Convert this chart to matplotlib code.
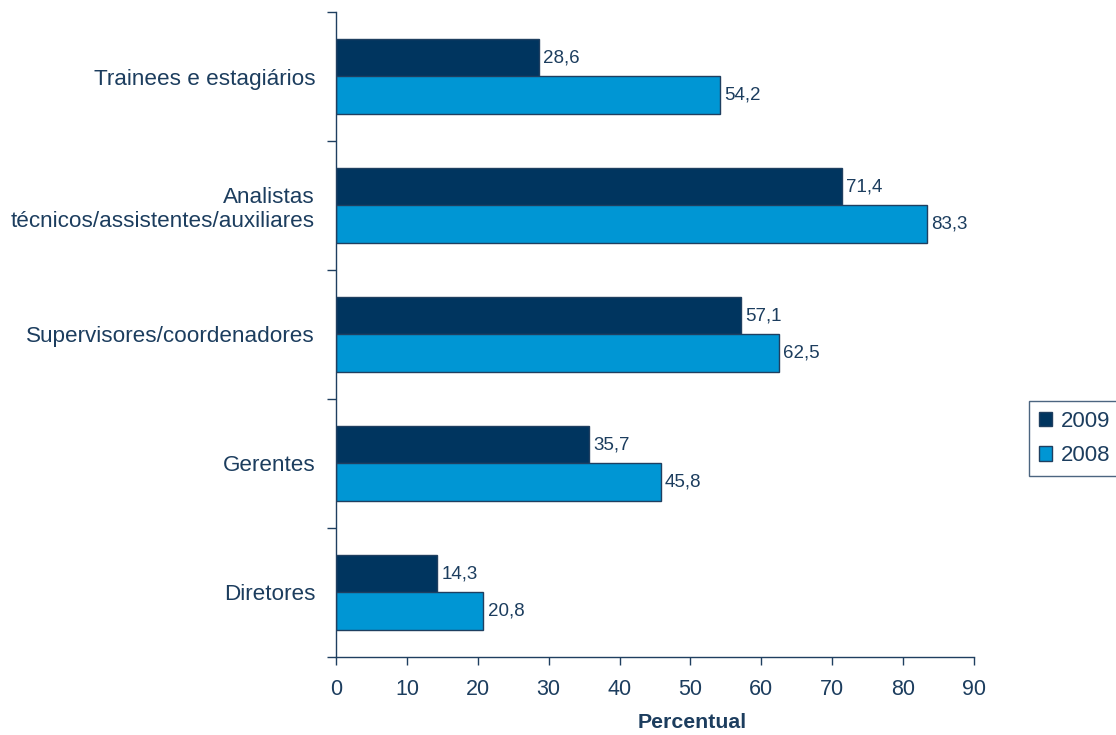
import numpy as np
import matplotlib.pyplot as plt

plt.rcParams['font.family'] = ['Liberation Sans', 'DejaVu Sans']

# data (bottom to top)
categories = ['Diretores', 'Gerentes', 'Supervisores/coordenadores',
              'Analistas\ntécnicos/assistentes/auxiliares', 'Trainees e estagiários']
vals_2009 = [14.3, 35.7, 57.1, 71.4, 28.6]
vals_2008 = [20.8, 45.8, 62.5, 83.3, 54.2]
series_labels = ['2009', '2008']
xticks = list(range(0, 100, 10))

TXT = '#1c3d5e'
DARK = '#00355f'
LIGHT = '#0096d4'
EDGE = '#1f3f60'

fig = plt.figure(figsize=(11.16, 7.35), dpi=100)
ax = fig.add_axes([336 / 1116, 1 - 657 / 735, 638 / 1116, 645 / 735])

y = np.arange(len(categories))
h = 0.287
b1 = ax.barh(y + h / 2, vals_2009, height=h, color=DARK, edgecolor=EDGE, linewidth=1, label=series_labels[0])
b2 = ax.barh(y - h / 2, vals_2008, height=h, color=LIGHT, edgecolor=EDGE, linewidth=1, label=series_labels[1])

for bars, vals in ((b1, vals_2009), (b2, vals_2008)):
    for r, v in zip(bars, vals):
        ax.annotate(f'{v:.1f}'.replace('.', ','), (r.get_width(), r.get_y() + r.get_height() / 2),
                    xytext=(3, 0), textcoords='offset points', va='center', ha='left',
                    fontsize=13.5, color=TXT)

ax.set_xlim(0, 90)
ax.set_ylim(-0.5, len(categories) - 0.5)
ax.set_xticks(xticks)
ax.tick_params(axis='x', direction='out', length=6, width=1, color=EDGE, labelsize=15.5, labelcolor=TXT, pad=10)

ax.set_yticks(np.arange(-0.5, len(categories)), labels=[])
ax.set_yticks(y, labels=categories, minor=True)
ax.tick_params(axis='y', which='major', direction='out', length=6.5, width=1, color=EDGE)
ax.tick_params(axis='y', which='minor', length=0, pad=15, labelsize=16.2, labelcolor=TXT)
for t in ax.get_yticklabels(minor=True):
    t.set_multialignment('right')

for s in ('top', 'right'):
    ax.spines[s].set_visible(False)
for s in ('left', 'bottom'):
    ax.spines[s].set_color(EDGE)
    ax.spines[s].set_linewidth(1)

fig.text(692 / 1116, 1 - 723 / 735, 'Percentual', ha='center', va='center',
         fontsize=15.3, fontweight='bold', color=TXT)

leg = fig.legend(handles=[b1, b2], loc='upper left', bbox_to_anchor=(1029 / 1116, 1 - 401 / 735),
                 frameon=True, fancybox=False, fontsize=16, labelcolor=TXT,
                 handlelength=0.6, handleheight=0.6, handletextpad=0.4,
                 borderpad=0.45, labelspacing=0.6, borderaxespad=0)
leg.get_frame().set_edgecolor(EDGE)
leg.get_frame().set_linewidth(1)

fig.savefig('out.png', dpi=100)
